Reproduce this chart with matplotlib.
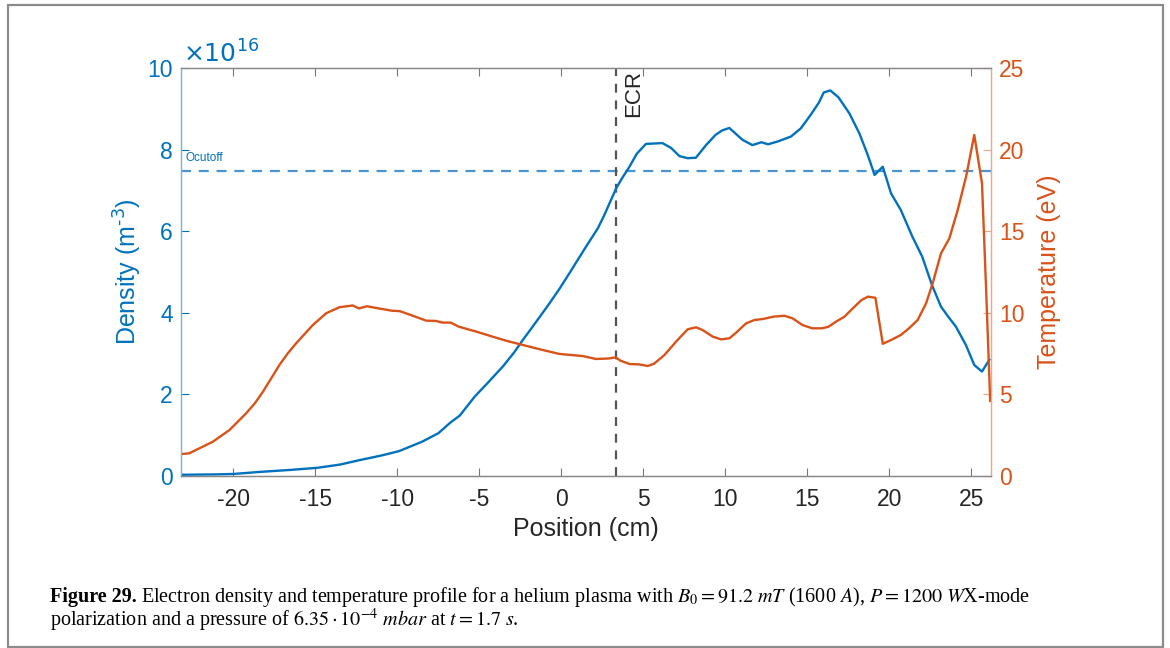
import matplotlib
matplotlib.use('Agg')
import matplotlib.pyplot as plt
from matplotlib.patches import Rectangle

# probe position (cm) and electron density (x1e16 m^-3)
pos_n = [-23.2, -21.0, -20.0, -18.4, -16.5, -14.9, -13.5, -12.3, -11.0, -9.9,
         -8.5, -7.5, -6.8, -6.2, -5.3, -4.5, -3.58, -2.9, -2.36, -1.9,
         -1.16, -0.73, -0.1, 0.49, 1.0, 1.5, 2.22, 2.6, 2.93, 3.34,
         3.7, 4.15, 4.6, 5.16, 5.7, 6.16, 6.69, 7.2, 7.7, 8.2, 8.82,
         9.4, 9.8, 10.24, 10.6, 11.04, 11.65, 12.2, 12.6, 13.2, 14.0,
         14.6, 15.2, 15.7, 16.0, 16.4, 16.9, 17.56, 18.17, 18.7, 19.1,
         19.6, 20.1, 20.7, 21.4, 22.0, 22.6, 23.15, 23.6, 24.06, 24.67,
         25.18, 25.65, 26.1]
dens = [0.03, 0.04, 0.05, 0.10, 0.15, 0.20, 0.28, 0.39, 0.50, 0.61,
        0.84, 1.05, 1.30, 1.48, 1.94, 2.28, 2.68, 3.02, 3.33, 3.58,
        3.99, 4.23, 4.60, 4.97, 5.30, 5.62, 6.07, 6.38, 6.68, 7.05,
        7.30, 7.58, 7.90, 8.14, 8.15, 8.16, 8.04, 7.84, 7.79, 7.80, 8.11,
        8.36, 8.47, 8.53, 8.40, 8.24, 8.11, 8.18, 8.13, 8.20, 8.32,
        8.52, 8.85, 9.15, 9.40, 9.45, 9.28, 8.89, 8.40, 7.85, 7.38,
        7.58, 6.93, 6.52, 5.87, 5.38, 4.68, 4.15, 3.90, 3.66, 3.21,
        2.72, 2.56, 2.85]

# probe position (cm) and electron temperature (eV)
pos_t = [-23.3, -22.7, -22.07, -21.26, -20.24, -19.23, -18.7, -18.2, -17.7, -17.2,
         -16.7, -16.18, -15.16, -14.35, -13.54, -12.73, -12.35, -11.85, -11.15, -10.35,
         -9.85, -9.06, -8.25, -7.65, -7.25, -6.75, -6.26, -5.2, -4.2, -3.3,
         -2.36, -1.14, -0.12, 1.3, 2.1, 2.9, 3.3, 3.6, 4.15, 4.75,
         5.26, 5.65, 6.28, 6.99, 7.7, 8.21, 8.6, 9.23, 9.74, 10.25,
         10.65, 11.26, 11.77, 12.3, 12.9, 13.6, 14.1, 14.7, 15.3, 15.9,
         16.3, 16.75, 17.26, 17.77, 18.3, 18.7, 19.15, 19.6, 20.1, 20.7,
         21.2, 21.73, 22.24, 22.64, 23.15, 23.66, 24.17, 24.68, 25.18, 25.65,
         25.9, 26.15]
temp = [1.33, 1.39, 1.70, 2.10, 2.82, 3.84, 4.45, 5.17, 5.98, 6.80,
        7.50, 8.13, 9.25, 9.97, 10.34, 10.45, 10.27, 10.40, 10.27, 10.13,
        10.10, 9.82, 9.52, 9.50, 9.40, 9.40, 9.15, 8.85, 8.54, 8.27,
        8.03, 7.72, 7.48, 7.35, 7.17, 7.20, 7.27, 7.07, 6.86, 6.84,
        6.74, 6.88, 7.41, 8.23, 8.99, 9.11, 8.95, 8.54, 8.37, 8.44,
        8.78, 9.35, 9.56, 9.62, 9.76, 9.82, 9.66, 9.25, 9.05, 9.05,
        9.15, 9.46, 9.76, 10.27, 10.78, 10.99, 10.92, 8.10, 8.33, 8.64,
        9.05, 9.56, 10.58, 11.80, 13.64, 14.56, 16.30, 18.34, 20.90, 17.93,
        11.5, 4.6]

n_cutoff = 7.47   # x1e16 m^-3
x_ecr = 3.3       # cm
x_ticks = [-20, -15, -10, -5, 0, 5, 10, 15, 20, 25]
n_ticks = [0, 2, 4, 6, 8, 10]
t_ticks = [0, 5, 10, 15, 20, 25]

blue = '#0072BD'
orange = '#D95319'
dark = '#262626'

plt.rcParams['font.family'] = ['Liberation Sans', 'DejaVu Sans']
plt.rcParams['axes.unicode_minus'] = False

fig = plt.figure(figsize=(11.7, 6.48), dpi=100)
fig.patches.append(Rectangle((8/1170, 1/648), 1155/1170, 642/648, transform=fig.transFigure,
                             fill=False, edgecolor='#8c8c8c', lw=1.6))

ax = fig.add_axes([181/1170, 172/648, 810/1170, 408/648])
ax2 = ax.twinx()

ax.plot(pos_n, dens, color=blue, lw=1.7, zorder=3)
ax.axhline(n_cutoff, color='#4a95d0', lw=1.6, ls=(0, (4.5, 3.5)), zorder=2)
ax.axvline(x_ecr, color='#555555', lw=1.6, ls=(0, (4, 3.5)), zorder=2)
ax2.plot(pos_t, temp, color=orange, lw=1.7)

ax.set_xlim(-23.2, 26.2)
ax.set_ylim(0, 10)
ax2.set_ylim(0, 25)
ax.set_xticks(x_ticks)
ax.set_yticks(n_ticks)
ax2.set_yticks(t_ticks)

ax.tick_params(axis='x', direction='in', top=True, length=6, width=0.8,
               color='#777777', labelcolor=dark, labelsize=16.5, pad=9)
ax.tick_params(axis='y', direction='in', length=6, width=0.8,
               color=blue, labelcolor=blue, labelsize=16.5, pad=6)
ax2.tick_params(axis='y', direction='in', length=6, width=0.8,
                color='#e8a787', labelcolor=orange, labelsize=16.5, pad=6)

for a in (ax, ax2):
    a.spines['top'].set_color('#888888')
    a.spines['bottom'].set_color('#888888')
    a.spines['left'].set_color('#7fb3dc')
    a.spines['right'].set_color('#eba88a')
    for s in a.spines.values():
        s.set_linewidth(0.9)

ax.set_xlabel('Position (cm)', fontsize=18, color=dark, labelpad=4)
ax.set_ylabel(r'Density (m$^{\text{-3}}$)', fontsize=18, color=blue, labelpad=2,
              math_fontfamily='dejavusans')
ax2.set_ylabel('Temperature (eV)', fontsize=18, color=orange, labelpad=9)

ax.text(0.002, 1.0, r'$\times10^{16}$', transform=ax.transAxes, fontsize=18,
        color=blue, ha='left', va='bottom', math_fontfamily='dejavusans')
ax.text(-22.9, n_cutoff + 0.18, 'Ocutoff', fontsize=8.5, color=blue,
        ha='left', va='bottom')
ax.text(x_ecr + 1.1, 9.95, 'ECR', rotation=90, fontsize=16, color=dark,
        ha='center', va='top')

# caption below the plot
fig.canvas.draw()
rend = fig.canvas.get_renderer()
cap_font = ['Liberation Serif', 'DejaVu Serif']
t0 = fig.text(50/1170, 1 - 597/648, 'Figure 29.', fontsize=14.5, weight='bold',
              family=cap_font, va='center', ha='left')
bb = t0.get_window_extent(rend)
fig.text((bb.x1 + 4)/1170, 1 - 597/648,
         r'Electron density and temperature profile for a helium plasma with '
         r'$B_0 = 91.2\ mT$ (1600 $A$), $P = 1200\ W$X-mode',
         fontsize=14.5, family=cap_font, va='center', ha='left', math_fontfamily='stix')
fig.text(50/1170, 1 - 620/648,
         r'polarization and a pressure of $6.35\cdot10^{-4}\ mbar$ at $t = 1.7\ s$.',
         fontsize=14.5, family=cap_font, va='center', ha='left', math_fontfamily='stix')

fig.savefig('out.png', dpi=100)
